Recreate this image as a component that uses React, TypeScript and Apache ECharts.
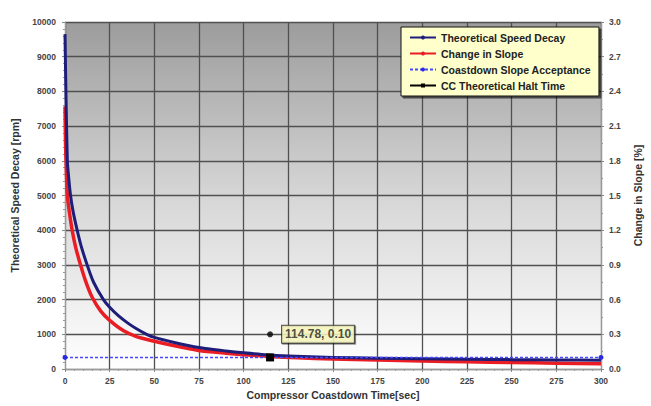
import React, { useEffect, useRef } from "react";
import * as echarts from "echarts";

// Time [sec] samples
const speedTimes = [0, 0.5, 1.3, 2, 3.1, 4.5, 6.8, 9, 12.4, 16, 21.5, 25, 30, 35, 40, 45.7, 50, 60, 75, 90, 100, 110, 125, 150, 175, 200, 225, 250, 275, 300];
// Theoretical Speed Decay [rpm]
const speedValues = [9650, 8000, 6000, 5550, 5000, 4550, 4000, 3550, 3000, 2500, 2000, 1780, 1530, 1330, 1160, 1000, 910, 780, 620, 520, 465, 420, 375, 335, 310, 295, 280, 270, 262, 255];

const slopeTimes = [0, 0.3, 1.3, 2.5, 4, 6, 8.7, 12, 15.2, 20, 25, 32.8, 40, 50, 60, 75, 90, 100, 115, 130, 150, 175, 200, 225, 250, 275, 300];
// Change in Slope [%]
const slopeValues = [2.27, 1.95, 1.5, 1.35, 1.2, 1.05, 0.9, 0.74, 0.62, 0.5, 0.42, 0.33, 0.28, 0.24, 0.205, 0.16, 0.137, 0.124, 0.108, 0.097, 0.087, 0.077, 0.069, 0.062, 0.056, 0.05, 0.045];

// Coastdown Slope Acceptance [%]
const acceptanceTimes = [0, 300];
const acceptanceValues = [0.1, 0.1];

// CC Theoretical Halt Time
const haltTime = 114.78;
const haltSlope = 0.1;
const calloutRpm = 1000;
const calloutText = "114.78, 0.10";

const xTicks = { min: 0, max: 300, interval: 25 };
const leftTicks = { min: 0, max: 10000, interval: 1000 };
const rightTicks = { min: 0, max: 3.0, interval: 0.3 };

const FONT = "Arial, 'Liberation Sans', sans-serif";

export default function App() {
  const ref = useRef<HTMLDivElement>(null);
  useEffect(() => {
    if (!ref.current) return;
    const chart = echarts.init(ref.current, undefined, { renderer: "svg" });
    const axisLabel = { color: "#444", fontSize: 8.5, fontWeight: "bold" as const, fontFamily: FONT };
    const nameStyle = { color: "#333333", fontSize: 10.5, fontWeight: "bold" as const, fontFamily: FONT };
    chart.setOption({
      animation: false,
      backgroundColor: "#ffffff",
      textStyle: { fontFamily: FONT },
      grid: {
        left: 65,
        right: 47,
        top: 22,
        bottom: 37,
        show: true,
        borderWidth: 0,
        backgroundColor: new echarts.graphic.LinearGradient(0, 0, 0, 1, [
          { offset: 0, color: "#9c9c9c" },
          { offset: 0.5, color: "#d6d6d6" },
          { offset: 1, color: "#ffffff" },
        ]),
      },
      legend: {
        left: 401,
        top: 27,
        orient: "vertical",
        itemWidth: 26,
        itemHeight: 5,
        itemGap: 5,
        padding: [5, 8, 5, 8],
        backgroundColor: "#ffffcc",
        borderColor: "#111",
        borderWidth: 1,
        shadowColor: "rgba(0,0,0,0.6)",
        shadowOffsetX: 2,
        shadowOffsetY: 2,
        shadowBlur: 1,
        textStyle: { color: "#222", fontSize: 10.5, fontWeight: "bold", fontFamily: FONT },
        data: ["Theoretical Speed Decay", "Change in Slope", "Coastdown Slope Acceptance", "CC Theoretical Halt Time"],
      },
      xAxis: {
        type: "value",
        ...xTicks,
        name: "Compressor Coastdown Time[sec]",
        nameLocation: "middle",
        nameGap: 20,
        nameTextStyle: nameStyle,
        axisLabel: { ...axisLabel, margin: 7 },
        axisLine: { show: true, lineStyle: { color: "#999" } },
        axisTick: { show: true, length: 3, lineStyle: { color: "#888" } },
        minorTick: { show: true, splitNumber: 5, length: 2, lineStyle: { color: "#999" } },
        splitLine: { show: true, lineStyle: { color: "#505050", width: 1.3 } },
      },
      yAxis: [
        {
          type: "value",
          position: "left",
          ...leftTicks,
          name: "Theoretical Speed Decay [rpm]",
          nameLocation: "middle",
          nameGap: 45,
          nameTextStyle: nameStyle,
          axisLabel: { ...axisLabel, margin: 9, formatter: (v: number) => String(v) },
          axisLine: { show: true, lineStyle: { color: "#999" } },
          axisTick: { show: true, length: 3, lineStyle: { color: "#888" } },
          minorTick: { show: true, splitNumber: 5, length: 2, lineStyle: { color: "#999" } },
          splitLine: { show: true, lineStyle: { color: "#505050", width: 1.3 } },
        },
        {
          type: "value",
          position: "right",
          ...rightTicks,
          name: "Change in Slope [%]",
          nameLocation: "middle",
          nameGap: 31,
          nameRotate: 90,
          nameTextStyle: nameStyle,
          axisLabel: { ...axisLabel, margin: 8, formatter: (v: number) => v.toFixed(1) },
          axisLine: { show: true, lineStyle: { color: "#999" } },
          axisTick: { show: true, length: 3, lineStyle: { color: "#888" } },
          minorTick: { show: true, splitNumber: 2, length: 2, lineStyle: { color: "#999" } },
          splitLine: { show: false },
        },
      ],
      series: [
        {
          name: "Theoretical Speed Decay",
          type: "line",
          yAxisIndex: 0,
          smooth: 0.2,
          showSymbol: false,
          symbol: "circle",
          symbolSize: 3,
          color: "#1e1e7a",
          lineStyle: { width: 3, color: "#1e1e7a", join: "round" },
          data: speedTimes.map((t, i) => [t, speedValues[i]]),
          z: 3,
        },
        {
          name: "Change in Slope",
          type: "line",
          yAxisIndex: 1,
          smooth: 0.2,
          showSymbol: false,
          symbol: "circle",
          symbolSize: 3,
          color: "#ea1c24",
          lineStyle: { width: 3.5, color: "#ea1c24", join: "round" },
          data: slopeTimes.map((t, i) => [t, slopeValues[i]]),
          z: 2,
        },
        {
          name: "Coastdown Slope Acceptance",
          type: "line",
          yAxisIndex: 1,
          symbol: "circle",
          symbolSize: 5,
          showSymbol: true,
          color: "#2a2ae0",
          lineStyle: { width: 1.5, type: [3, 2], color: "#4848ff" },
          itemStyle: { color: "#2a2ae0" },
          data: acceptanceTimes.map((t, i) => [t, acceptanceValues[i]]),
          z: 4,
        },
        {
          name: "CC Theoretical Halt Time",
          type: "line",
          yAxisIndex: 1,
          symbol: "rect",
          symbolSize: 8,
          showSymbol: true,
          color: "#000",
          lineStyle: { width: 1, color: "#000" },
          itemStyle: { color: "#000" },
          data: [[haltTime, haltSlope]],
          z: 5,
        },
        {
          name: "callout",
          type: "scatter",
          yAxisIndex: 0,
          symbol: "circle",
          symbolSize: 6,
          itemStyle: { color: "#000" },
          data: [[haltTime, calloutRpm]],
          label: {
            show: true,
            position: "right",
            distance: 9,
            formatter: () => calloutText,
            color: "#222",
            fontSize: 12,
            fontWeight: "bold",
            fontFamily: FONT,
            backgroundColor: "#ffffc4",
            borderColor: "#222",
            borderWidth: 1,
            padding: [3, 3, 2, 3],
            shadowColor: "rgba(0,0,0,0.5)",
            shadowOffsetX: 1,
            shadowOffsetY: 1,
            shadowBlur: 1,
          },
          z: 6,
        },
      ],
    });
    return () => chart.dispose();
  }, []);
  return <div ref={ref} style={{ width: 651, height: 406, position: "absolute", left: 0, top: 0 }} />;
}
